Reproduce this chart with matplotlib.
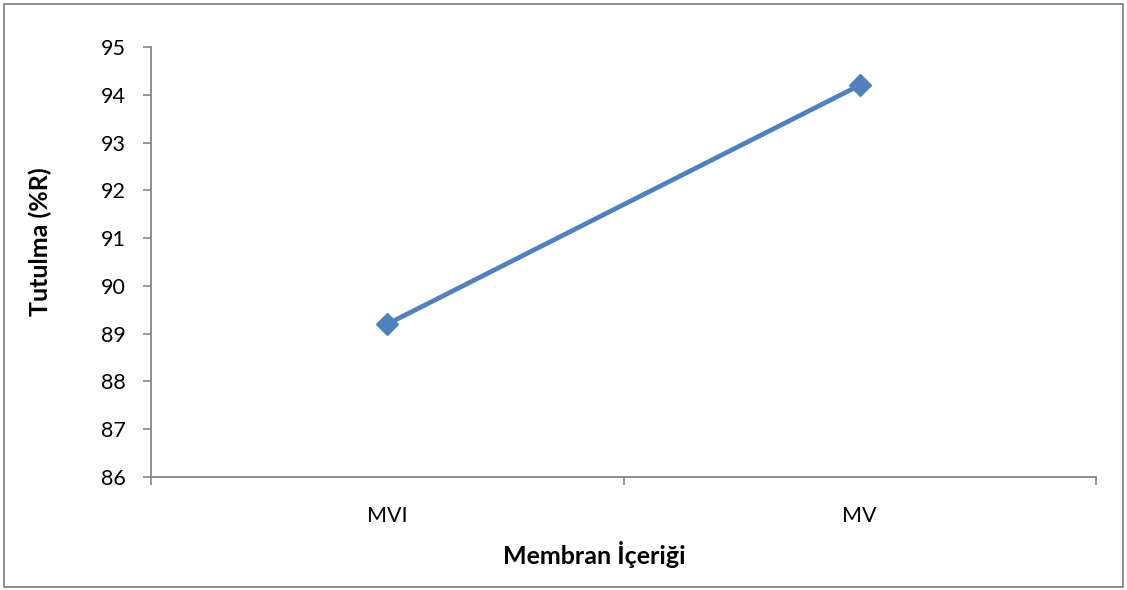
import matplotlib
matplotlib.use("Agg")
import matplotlib.pyplot as plt
from matplotlib.patches import Rectangle

categories = ["MVI", "MV"]
values = [89.2, 94.2]
yticks = [86, 87, 88, 89, 90, 91, 92, 93, 94, 95]

plt.rcParams['font.family'] = ['Lato', 'DejaVu Sans']

W, H = 1127, 590
fig = plt.figure(figsize=(W/100, H/100), dpi=100)
ax = fig.add_axes([151/W, 1-477/H, (1096-151)/W, (477-47)/H])

x = list(range(len(categories)))
ax.plot(x, values, color='#4F81BD', lw=3.4, marker='D', ms=11,
        markerfacecolor='#4F81BD', markeredgecolor='#4F81BD', solid_capstyle='round', zorder=3)

ax.set_xlim(-0.5, len(categories)-0.5)
ax.set_ylim(86, 95)
ax.set_yticks(yticks)
ax.set_yticklabels([str(v) for v in yticks], fontsize=15.5)
ax.set_xticks(x)
ax.set_xticklabels(categories, fontsize=15.5)
ax.set_xticks([-0.5, 0.5, 1.5], minor=True)
ax.tick_params(axis='x', which='major', length=0, pad=21)
ax.tick_params(axis='x', which='minor', length=6, color='#868686', width=1.2, direction='out')
ax.tick_params(axis='y', length=6, color='#868686', width=1.2, pad=12, direction='out')

for s in ['top', 'right']:
    ax.spines[s].set_visible(False)
for s in ['left', 'bottom']:
    ax.spines[s].set_color('#868686')
    ax.spines[s].set_linewidth(1.3)

fig.text(40/W, 1-242/H, "Tutulma (%R)", fontsize=18, fontweight='bold',
         rotation=90, ha='center', va='center')
fig.text(594/W, 1-555/H, "Membran İçeriği", fontsize=18, fontweight='bold',
         ha='center', va='center')

fig.patches.append(Rectangle((4/W, 3/H), (1123-4)/W, (587-4)/H, transform=fig.transFigure,
                             fill=False, edgecolor='#868686', lw=1.3))

fig.savefig("out.png", dpi=100)
